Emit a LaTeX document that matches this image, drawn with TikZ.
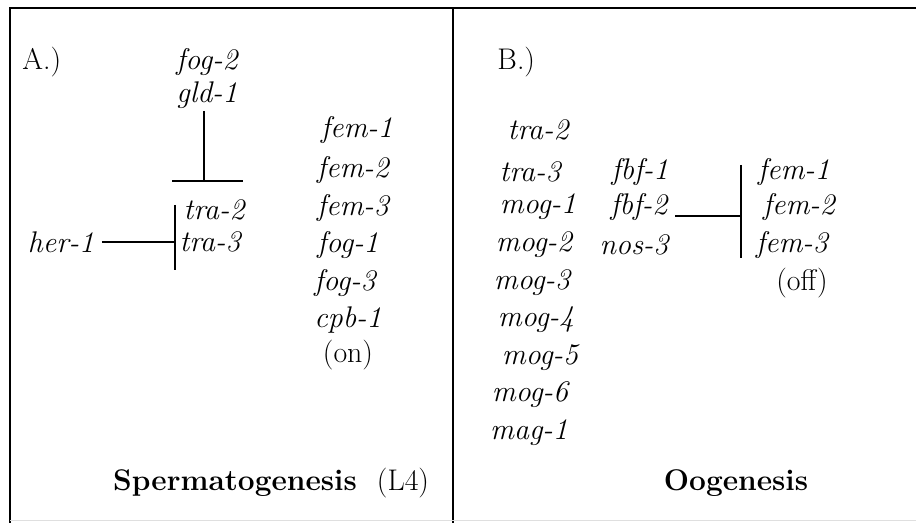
\documentclass[tikz,border=0pt]{standalone}
\begin{document}
\begin{tikzpicture}[x=0.02cm,y=-0.02cm,line width=0.8pt,
		gene/.style={font=\fontsize{17}{20}\selectfont\itshape, inner sep=1pt},
		plain/.style={font=\fontsize{17}{20}\selectfont, inner sep=1pt},
		title/.style={font=\fontsize{17}{20}\selectfont\bfseries, inner sep=1pt}]
		\useasboundingbox (0,0) rectangle (916,523);
		\draw[line width=1.1pt] (10,523) -- (10,8) -- (916,8);  % frame
		\draw[line width=1.1pt] (453,8) -- (453,523);  % divider
		\draw[gray!25, line width=0.4pt] (10,520) -- (916,520);  % bottom

		% A.) spermatogenesis
		\node[plain, anchor=west] (labA) at (20,62) {A.)};
		\node[gene] (fog2) at (207,62) {fog-2};
		\node[gene] (gld1) at (207,95) {gld-1};
		\node[gene] (tra2a) at (214,210) {tra-2};
		\node[gene] (tra3a) at (210,242) {tra-3};
		\node[gene] (her1) at (61,242) {her-1};
		\node[gene] (fem1a) at (357,130) {fem-1};
		\node[gene] (fem2a) at (353,170) {fem-2};
		\node[gene] (fem3a) at (353,208) {fem-3};
		\node[gene] (fog1) at (348,245) {fog-1};
		\node[gene] (fog3) at (345,283) {fog-3};
		\node[gene] (cpb1) at (348,320) {cpb-1};
		\node[plain] (on) at (348,355) {(on)};
		\node[title] (sperm) at (235,483) {Spermatogenesis};
		\node[plain] (lfour) at (403,483) {(L4)};

		\coordinate (barA) at (204,181);
		\draw (gld1.south -| barA) -- (barA);  % gld-1 -| tra
		\draw (barA) ++(-32,0) -- ++(71,0);
		\coordinate (barB) at (175,242);
		\draw[shorten <=3pt] (her1.east) -- (barB);  % her-1 -| tra
		\draw (barB) ++(0,-37) -- ++(0,65);

		% B.) oogenesis
		\node[plain, anchor=west] (labB) at (495,62) {B.)};
		\node[gene] (tra2b) at (538,130) {tra-2};
		\node[gene] (tra3b) at (530,172) {tra-3};
		\node[gene] (mog1) at (538,207) {mog-1};
		\node[gene] (mog2) at (534,245) {mog-2};
		\node[gene] (mog3) at (532,283) {mog-3};
		\node[gene] (mog4) at (536,320) {mog-4};
		\node[gene] (mog5) at (540,358) {mog-5};
		\node[gene] (mog6) at (530,395) {mog-6};
		\node[gene] (mag1) at (529,433) {mag-1};
		\node[gene] (fbf1) at (640,172) {fbf-1};
		\node[gene] (fbf2) at (639,207) {fbf-2};
		\node[gene] (nos3) at (634,245) {nos-3};
		\node[gene] (fem1b) at (794,172) {fem-1};
		\node[gene] (fem2b) at (799,207) {fem-2};
		\node[gene] (fem3b) at (792,245) {fem-3};
		\node[plain] (off) at (802,283) {(off)};
		\node[title] (oo) at (736,483) {Oogenesis};

		\coordinate (barC) at (741,216);
		\draw[shorten <=3pt] (fbf2.east |- barC) -- (barC);  % fbf -| fem
		\draw (barC) ++(0,-51) -- ++(0,93);
	\end{tikzpicture}
\end{document}
